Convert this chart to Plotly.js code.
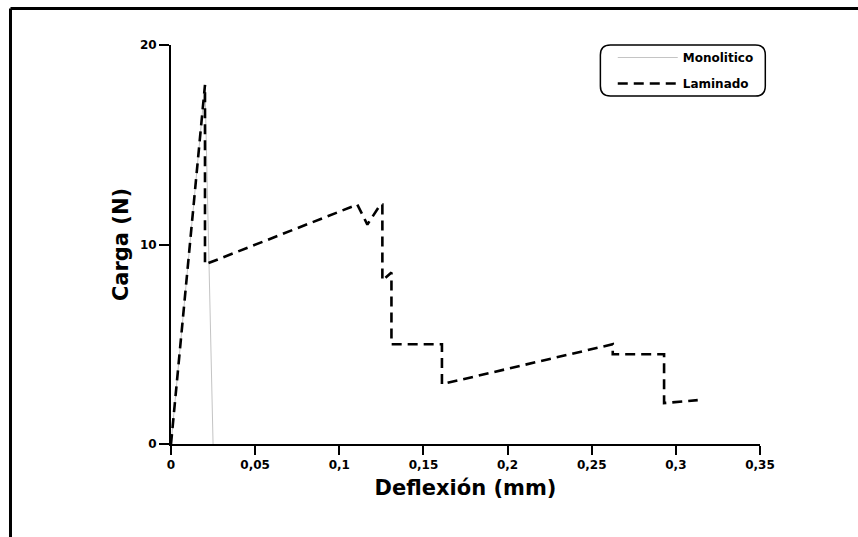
<!DOCTYPE html>
<html>
<head>
<meta charset="utf-8">
<script src="https://cdn.plot.ly/plotly-3.0.1.min.js"></script>
<style>html,body{margin:0;padding:0;background:#fff;}</style>
</head>
<body>
<div id="chart" style="width:858px;height:537px;"></div>
<script>
// Data
const monoName = "Monolitico";
const monoX = [0, 0.0202, 0.025];
const monoY = [0, 18, 0];

const lamName = "Laminado";
const lamX = [0, 0.0202, 0.0202, 0.1107, 0.1167, 0.1244, 0.1256, 0.1256, 0.131, 0.131, 0.161, 0.161, 0.2625, 0.2625, 0.293, 0.293, 0.313];
const lamY = [0, 18, 9, 12, 11, 12, 12, 8.2, 8.6, 5, 5, 3, 5, 4.5, 4.5, 2.05, 2.2];

const xTickVals = [0, 0.05, 0.1, 0.15, 0.2, 0.25, 0.3, 0.35];
const xTickText = ["0", "0,05", "0,1", "0,15", "0,2", "0,25", "0,3", "0,35"];
const yTickVals = [0, 10, 20];
const yTickText = ["0", "10", "20"];

const xTitle = "Deflexión (mm)";
const yTitle = "Carga (N)";

const FONT = "DejaVu Sans, Liberation Sans, Arial, sans-serif";

const traces = [
  {
    x: monoX, y: monoY, name: monoName, type: "scatter", mode: "lines",
    legendgroup: "a",
    line: {color: "#c4c4c4", width: 1}
  },
  {
    x: lamX, y: lamY, name: lamName, type: "scatter", mode: "lines",
    legendgroup: "b",
    line: {color: "#000000", width: 2.6, dash: "10px,6px"}
  }
];

// rounded legend frame (paper coords)
function roundRect(x0, y0, x1, y1, rx, ry) {
  return "M" + (x0 + rx) + "," + y1 +
    " L" + (x1 - rx) + "," + y1 +
    " Q" + x1 + "," + y1 + " " + x1 + "," + (y1 - ry) +
    " L" + x1 + "," + (y0 + ry) +
    " Q" + x1 + "," + y0 + " " + (x1 - rx) + "," + y0 +
    " L" + (x0 + rx) + "," + y0 +
    " Q" + x0 + "," + y0 + " " + x0 + "," + (y0 + ry) +
    " L" + x0 + "," + (y1 - ry) +
    " Q" + x0 + "," + y1 + " " + (x0 + rx) + "," + y1 + " Z";
}

const layout = {
  width: 858, height: 537,
  margin: {l: 171, r: 98, t: 45, b: 93},
  paper_bgcolor: "#ffffff",
  plot_bgcolor: "#ffffff",
  showlegend: true,
  font: {family: FONT, color: "#000", weight: "bold"},
  xaxis: {
    range: [0, 0.35],
    tickvals: xTickVals, ticktext: xTickText,
    showgrid: false, zeroline: false,
    showline: true, linecolor: "#000", linewidth: 2,
    ticks: "outside", ticklen: 9, tickwidth: 2, tickcolor: "#000",
    tickfont: {family: FONT, size: 12, weight: "bold", color: "#000"},
    title: {text: xTitle, font: {family: FONT, size: 21, weight: "bold", color: "#000"}, standoff: 9}
  },
  yaxis: {
    range: [0, 20],
    tickvals: yTickVals, ticktext: yTickText,
    showgrid: false, zeroline: false,
    showline: true, linecolor: "#000", linewidth: 2,
    ticks: "outside", ticklen: 10, tickwidth: 2, tickcolor: "#000",
    tickfont: {family: FONT, size: 12, weight: "bold", color: "#000"},
    title: {text: yTitle, font: {family: FONT, size: 21, weight: "bold", color: "#000"}, standoff: 6}
  },
  legend: {
    x: 0.750, y: 1.005, xanchor: "left", yanchor: "top",
    bgcolor: "rgba(0,0,0,0)", borderwidth: 0,
    traceorder: "grouped", tracegroupgap: 7,
    itemwidth: 60,
    font: {family: FONT, size: 12, weight: "bold", color: "#000"}
  },
  shapes: [
    {type: "path", xref: "paper", yref: "paper",
     path: roundRect(0.729, 0.872, 1.009, 1.0, 0.017, 0.025),
     line: {color: "#000", width: 1.5}, fillcolor: "rgba(0,0,0,0)"},
    // figure frame: top and left edges
    {type: "line", xref: "paper", yref: "paper", x0: -0.2725, x1: 1.17, y0: 1.0915, y1: 1.0915,
     line: {color: "#000", width: 3}},
    {type: "line", xref: "paper", yref: "paper", x0: -0.2725, x1: -0.2725, y0: 1.0915, y1: -0.24,
     line: {color: "#000", width: 3}}
  ]
};

Plotly.newPlot("chart", traces, layout, {displayModeBar: false, staticPlot: true});
</script>
</body>
</html>
